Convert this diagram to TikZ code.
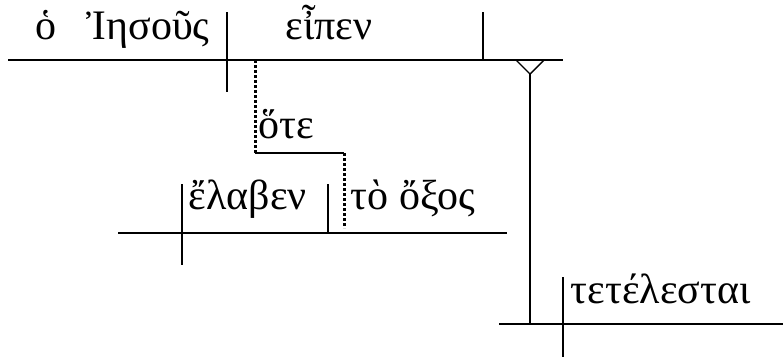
\documentclass[tikz,border=0pt]{standalone}
\usepackage{fontspec}
\setmainfont{Liberation Serif}
\begin{document}
\begin{tikzpicture}[x=1pt,y=-1pt,line width=1.4pt,
    word/.style={font=\fontsize{42}{48}\selectfont,anchor=base west,inner sep=0pt},
    dotline/.style={line width=3pt,dash pattern=on 3pt off 2pt}]
    \useasboundingbox (0,0) rectangle (783,360);
    % main clause
    \draw (8,60) -- (563,60);
    \draw (227,12) -- (227,92);
    \draw (483,12) -- (483,60);
    \node[word] (art)  at (35,39)  {ὁ};
    \node[word] (subj) at (86,39)  {Ἰησοῦς};
    \node[word] (verb) at (285,39) {εἶπεν};
    % object clause on a pedestal
    \draw (516,60) -- (530,74) -- (544,60);
    \draw (530,74) -- (530,324);
    \draw (499,324) -- (783,324);
    \draw (563,277) -- (563,357);
    \node[word] (obj) at (570,303) {τετέλεσται};
    % subordinate clause
    \draw[dotline] (255,60) -- (255,153);
    \draw (255,153) -- (344,153);
    \draw[dotline] (344,153) -- (344,228);
    \node[word] (conj) at (258,138) {ὅτε};
    \draw (118,233) -- (507,233);
    \draw (182,184) -- (182,265);
    \draw (328,184) -- (328,233);
    \node[word] (sverb) at (188,209) {ἔλαβεν};
    \node[word] (sobj)  at (350,209) {τὸ ὄξος};
\end{tikzpicture}
\end{document}
